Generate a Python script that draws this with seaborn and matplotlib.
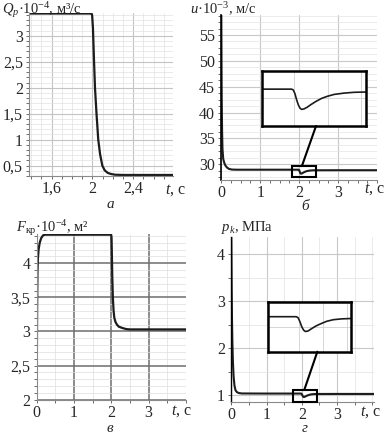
import numpy as np
import pandas as pd
import matplotlib
matplotlib.use("Agg")
import matplotlib.pyplot as plt
import seaborn as sns
from matplotlib.ticker import MultipleLocator, FuncFormatter
from matplotlib.patches import Rectangle, ConnectionPatch

# Data ---------------------------------------------------------------------
# (а) flow rate Q_p * 1e-4, m3/s
t_q = [1.378, 1.99, 1.997, 2.005, 2.015, 2.025, 2.04, 2.057, 2.075, 2.097, 2.12, 2.15, 2.18, 2.22, 2.3, 2.79]
q_p = [3.43, 3.43, 3.40, 3.15, 2.55, 2.0, 1.5, 1.0, 0.72, 0.5, 0.41, 0.36, 0.34, 0.325, 0.32, 0.32]

# (б) velocity u * 1e-3, m/s
t_u = [0.0, 0.005, 0.01, 0.02, 0.03, 0.05, 0.08, 0.11, 0.15, 0.2, 0.27, 0.4, 1.0, 1.985, 1.995, 2.005,
       2.015, 2.025, 2.035, 2.045, 2.06, 2.08, 2.1, 2.13, 2.165, 2.2, 2.24, 2.3, 2.36, 2.43, 3.0, 4.0]
u = [58.9, 50.0, 43.0, 36.5, 33.0, 31.0, 30.2, 29.7, 29.35, 29.1, 28.98, 28.95, 28.95, 28.95, 28.92, 28.78,
     28.55, 28.36, 28.23, 28.18, 28.2, 28.27, 28.36, 28.48, 28.6, 28.68, 28.75, 28.8, 28.83, 28.84, 28.85, 28.85]

# (в) critical section area F_кр * 1e-4, m2
t_f = [0.0, 0.005, 0.01, 0.02, 0.03, 0.05, 0.08, 0.12, 0.17, 0.22, 1.995, 2.005, 2.015, 2.025, 2.04,
       2.06, 2.08, 2.11, 2.15, 2.2, 2.3, 2.4, 2.5, 4.0]
f_kr = [2.0, 2.7, 3.3, 3.85, 4.05, 4.2, 4.3, 4.37, 4.41, 4.42, 4.42, 4.38, 4.1, 3.8, 3.5,
        3.3, 3.2, 3.14, 3.1, 3.07, 3.05, 3.035, 3.03, 3.03]

# (г) chamber pressure p_k, MPa
t_p = [0.0, 0.01, 0.02, 0.03, 0.045, 0.065, 0.09, 0.12, 0.16, 0.22, 0.3, 1.0, 1.98, 1.995, 2.01, 2.025,
       2.04, 2.055, 2.075, 2.1, 2.14, 2.175, 2.23, 2.285, 2.35, 2.43, 3.0, 4.05]
p_k = [4.37, 3.3, 2.6, 2.15, 1.72, 1.4, 1.2, 1.1, 1.06, 1.04, 1.032, 1.03, 1.03, 1.025, 1.005, 0.98,
       0.963, 0.956, 0.958, 0.968, 0.983, 0.993, 1.007, 1.015, 1.019, 1.021, 1.022, 1.022]

captions = ["а", "б", "в", "г"]

sns.set_theme(style="white")
plt.rcParams["font.family"] = ["Liberation Serif", "DejaVu Serif"]
plt.rcParams["mathtext.fontset"] = "custom"
plt.rcParams["mathtext.rm"] = "Liberation Serif"
plt.rcParams["mathtext.it"] = "Liberation Serif:italic"
plt.rcParams["font.size"] = 10.5

W, H = 384, 434
fig = plt.figure(figsize=(W / 100, H / 100), dpi=100)
fig.patch.set_facecolor("white")

LINE = "#1c1c1c"
TICK_FS = 11.5
LABEL_FS = 10.5
comma = FuncFormatter(lambda v, p: f"{v:g}".replace(".", ","))


def px_axes(l, t, r, b):
    return fig.add_axes([l / W, 1 - b / H, (r - l) / W, (b - t) / H])


def style(ax, xmaj, xmin, ymaj, ymin, major_col, minor_col, major_lw=0.8):
    ax.set_facecolor("white")
    ax.xaxis.set_major_locator(MultipleLocator(xmaj))
    ax.xaxis.set_minor_locator(MultipleLocator(xmin))
    ax.yaxis.set_major_locator(MultipleLocator(ymaj))
    ax.yaxis.set_minor_locator(MultipleLocator(ymin))
    ax.xaxis.set_major_formatter(comma)
    ax.yaxis.set_major_formatter(comma)
    ax.grid(True, which="major", color=major_col, lw=major_lw)
    ax.grid(True, which="minor", color=minor_col, lw=0.5)
    ax.set_axisbelow(True)
    for s in ["top", "right"]:
        ax.spines[s].set_visible(False)
    for s in ["left", "bottom"]:
        ax.spines[s].set_color("#8a8a8a")
        ax.spines[s].set_linewidth(0.8)
    ax.tick_params(which="both", direction="out", length=2, width=0.6, color="#555555",
                   pad=1.5, labelsize=TICK_FS, bottom=True, left=True)
    ax.tick_params(axis="y", pad=2.5)
    ax.set_xlabel("")
    ax.set_ylabel("")


def inset(ax, rect, xlim, ylim, t, v):
    ins = px_axes(*rect)
    sns.lineplot(x=t, y=v, ax=ins, color=LINE, lw=1.2, legend=False)
    ins.set_xlim(xlim)
    ins.set_ylim(ylim)
    ins.set_xticks([2.0, 2.2, 2.4])
    ins.set_yticks([ylim[0] + 0.5 * (ylim[1] - ylim[0])])
    ins.grid(True, color="#d0d0d0", lw=0.6)
    ins.tick_params(length=0, labelbottom=False, labelleft=False)
    ins.set_xlabel("")
    ins.set_ylabel("")
    ins.set_facecolor("white")
    for s in ins.spines.values():
        s.set_visible(True)
        s.set_color("black")
        s.set_linewidth(1.8)
    ax.add_patch(Rectangle((xlim[0], ylim[0]), xlim[1] - xlim[0], ylim[1] - ylim[0],
                           fill=False, ec="black", lw=1.5, zorder=5, clip_on=False))
    return ins


# а ---------------------------------------------------------------------
ax1 = px_axes(29, 13, 173, 176)
sns.lineplot(x=t_q, y=q_p, ax=ax1, color=LINE, lw=1.6, legend=False)
ax1.set_xlim(1.378, 2.79)
ax1.set_ylim(0.30, 3.44)
style(ax1, 0.4, 0.1, 0.5, 0.1, "#c4c4c4", "#e2e2e2")
fig.text(2 / W, 1.0, r"$Q_p$·10$^{-4}$, м³/с", ha="left", va="top", fontsize=LABEL_FS)
fig.text(165 / W, 1 - 190 / H, r"$t$, с", ha="left", va="center", fontsize=TICK_FS)

# б ---------------------------------------------------------------------
ax2 = px_axes(221.3, 15, 377, 180)
sns.lineplot(x=t_u, y=u, ax=ax2, color=LINE, lw=1.5, legend=False)
ax2.set_xlim(0, 4.0)
ax2.set_ylim(26.96, 58.87)
style(ax2, 1, 0.5, 5, 2.5, "#c8c8c8", "#e4e4e4")
ax2.set_xticks([0, 1, 2, 3])
ax2.xaxis.set_minor_locator(MultipleLocator(0.25))
ax2.yaxis.set_minor_locator(MultipleLocator(1.25))
ax2.grid(False, which="minor", axis="x")
ax2.spines["left"].set_color("black")
ax2.spines["left"].set_linewidth(1.2)
fig.text(190 / W, 1.0, r"$u$·10$^{-3}$, м/с", ha="left", va="top", fontsize=LABEL_FS)
fig.text(364 / W, 1 - 189 / H, r"$t$, с", ha="left", va="center", fontsize=TICK_FS)
ins2 = inset(ax2, (262.3, 70.7, 366, 126), (1.81, 2.43), (27.55, 29.65), t_u, u)
fig.add_artist(ConnectionPatch(xyA=(2.07, 29.65), coordsA=ax2.transData,
                               xyB=(0.518, 0.0), coordsB=ins2.transAxes,
                               color="black", lw=1.5, zorder=6))

# в ---------------------------------------------------------------------
ax3 = px_axes(36.7, 234, 186, 400.3)
sns.lineplot(x=t_f, y=f_kr, ax=ax3, color=LINE, lw=1.6, legend=False)
ax3.set_xlim(0, 4.0)
ax3.set_ylim(1.99, 4.43)
style(ax3, 1, 0.5, 0.5, 0.1, "#6e6e6e", "#dedede", major_lw=1.1)
ax3.set_xticks([0, 1, 2, 3])
ax3.xaxis.set_minor_locator(MultipleLocator(0.5))
fig.text(16 / W, 1 - 218 / H, r"$F_{\mathrm{кр}}$·10$^{-4}$, м²", ha="left", va="top", fontsize=LABEL_FS)
fig.text(171 / W, 1 - 411 / H, r"$t$, с", ha="left", va="center", fontsize=TICK_FS)

# г ---------------------------------------------------------------------
ax4 = px_axes(231.3, 237, 374, 402)
sns.lineplot(x=t_p, y=p_k, ax=ax4, color=LINE, lw=1.5, legend=False)
ax4.set_xlim(0, 4.05)
ax4.set_ylim(0.85, 4.37)
style(ax4, 1, 0.5, 1, 0.5, "#c8c8c8", "#e2e2e2")
ax4.set_xticks([0, 1, 2, 3])
ax4.spines["left"].set_color("black")
ax4.spines["left"].set_linewidth(1.0)
fig.text(221 / W, 1 - 219 / H, r"$p_k$, МПа", ha="left", va="top", fontsize=LABEL_FS)
fig.text(360 / W, 1 - 412 / H, r"$t$, с", ha="left", va="center", fontsize=TICK_FS)
ins4 = inset(ax4, (268.3, 301.7, 351, 351.7), (1.75, 2.43), (0.855, 1.105), t_p, p_k)
fig.add_artist(ConnectionPatch(xyA=(2.07, 1.105), coordsA=ax4.transData,
                               xyB=(0.593, 0.0), coordsB=ins4.transAxes,
                               color="black", lw=1.5, zorder=6))

# captions ----------------------------------------------------------------
for (x, y), c in zip([(110, 205), (305, 207), (110, 429), (305, 429)], captions):
    fig.text(x / W, 1 - y / H, c, ha="center", va="center", fontsize=11, style="italic")

fig.savefig("out.png", dpi=100, facecolor="white")
